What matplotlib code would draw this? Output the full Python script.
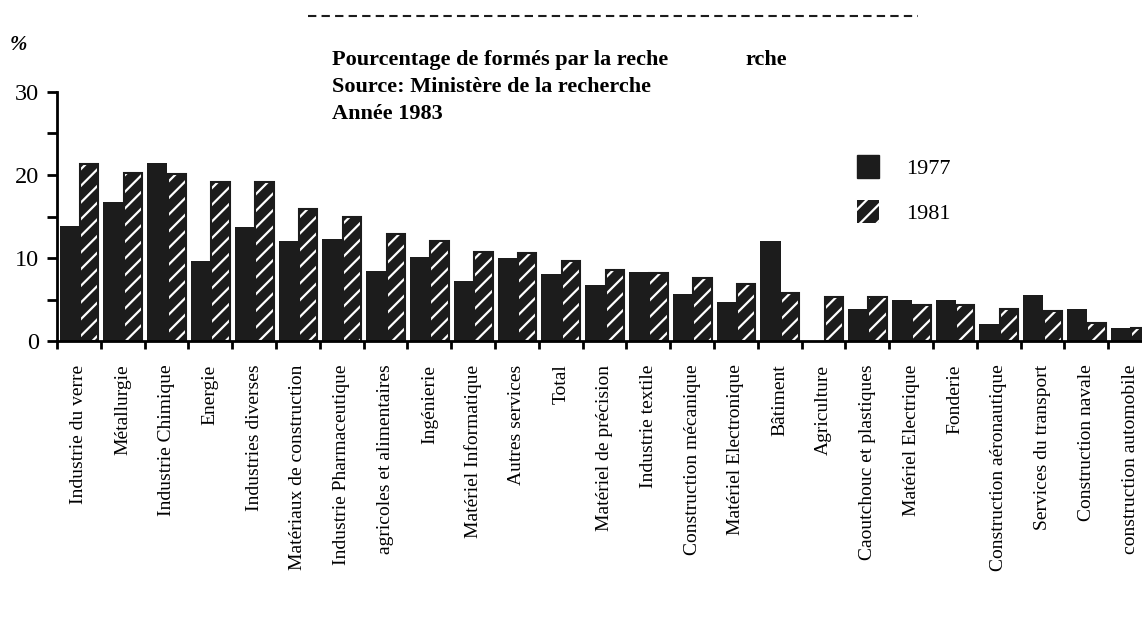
import matplotlib.pyplot as plt
from matplotlib.patches import Patch
from matplotlib.lines import Line2D

# data (%)
categories = ["Industrie du verre", "Métallurgie", "Industrie Chimique", "Energie",
              "Industries diverses", "Matériaux de construction", "Industrie Pharmaceutique",
              "agricoles et alimentaires", "Ingénierie", "Matériel Informatique",
              "Autres services", "Total", "Matériel de précision", "Industrie textile",
              "Construction mécanique", "Matériel Electronique", "Bâtiment", "Agriculture",
              "Caoutchouc et plastiques", "Matériel Electrique", "Fonderie",
              "Construction aéronautique", "Services du transport", "Construction navale",
              "construction automobile"]
v1977 = [13.9, 16.7, 21.5, 9.6, 13.7, 12.1, 12.3, 8.4, 10.1, 7.2, 10.0, 8.1, 6.7,
         8.3, 5.7, 4.7, 12.1, 0.0, 3.8, 4.9, 4.9, 2.0, 5.5, 3.9, 1.6]
v1981 = [21.3, 20.2, 20.1, 19.2, 19.2, 15.9, 14.9, 12.9, 12.0, 10.7, 10.6, 9.6, 8.6,
         8.2, 7.6, 6.9, 5.8, 5.3, 5.3, 4.3, 4.3, 3.9, 3.6, 2.2, 1.6]
years = ["1977", "1981"]

dark = "#1c1c1c"
plt.rcParams['font.family'] = ['Liberation Serif', 'DejaVu Serif']
plt.rcParams['hatch.linewidth'] = 1.6

fig = plt.figure(figsize=(11.42, 6.2), dpi=100)
ax = fig.add_axes([57 / 1142, 1 - 341 / 620, 1095 / 1142, 249 / 620])

x = list(range(len(categories)))
x1 = [i - 0.21 for i in x]
x2 = [i + 0.235 for i in x]
ax.bar(x1, v1977, width=0.46, color=dark, linewidth=0)
ax.bar(x2, v1981, width=0.42, color=dark, edgecolor="white", hatch="//", linewidth=0)
ax.bar(x2, v1981, width=0.42, fill=False, edgecolor=dark, linewidth=1.5)

ax.set_xlim(-0.5, len(categories) - 0.5)
ax.set_ylim(0, 30)
ax.spines[['top', 'right']].set_visible(False)
ax.spines['left'].set_linewidth(2)
ax.spines['bottom'].set_linewidth(2)

ax.set_yticks([0, 10, 20, 30])
ax.set_yticks([5, 15, 25], minor=True)
ax.tick_params(axis='y', which='both', length=7, width=2, labelsize=17.5, pad=6)

ax.set_xticks(x)
ax.set_xticklabels(categories, rotation=90, fontsize=14, va='top', ha='center')
ax.set_xticks([i - 0.5 for i in x] + [len(x) - 0.5], minor=True)
ax.tick_params(axis='x', which='major', length=0, pad=17)
ax.tick_params(axis='x', which='minor', length=6, width=2)

# titles
fig.text(10 / 1142, 1 - 45 / 620, "%", fontsize=15, fontweight='bold',
         fontstyle='italic', va='center')
fig.text(332 / 1142, 1 - 60 / 620, "Pourcentage de formés par la reche",
         fontsize=16, fontweight='bold', va='center')
fig.text(745 / 1142, 1 - 60 / 620, "rche", fontsize=16, fontweight='bold', va='center')
fig.text(332 / 1142, 1 - 87 / 620, "Source: Ministère de la recherche",
         fontsize=16, fontweight='bold', va='center')
fig.text(332 / 1142, 1 - 114 / 620, "Année 1983",
         fontsize=16, fontweight='bold', va='center')

fig.add_artist(Line2D([308 / 1142, 918 / 1142], [1 - 16 / 620, 1 - 16 / 620],
                      transform=fig.transFigure, color=dark, linewidth=1.5,
                      dashes=(4, 2.5)))

handles = [Patch(facecolor=dark, edgecolor=dark),
           Patch(facecolor=dark, edgecolor="white", hatch="//", linewidth=0)]
fig.legend(handles, years, loc='upper left',
           bbox_to_anchor=(857 / 1142, 1 - 155 / 620), bbox_transform=fig.transFigure,
           frameon=False, fontsize=16, handlelength=1.0, handleheight=1.2,
           handletextpad=1.2, labelspacing=0.95, borderpad=0, borderaxespad=0)

fig.savefig("out.png", dpi=100)
